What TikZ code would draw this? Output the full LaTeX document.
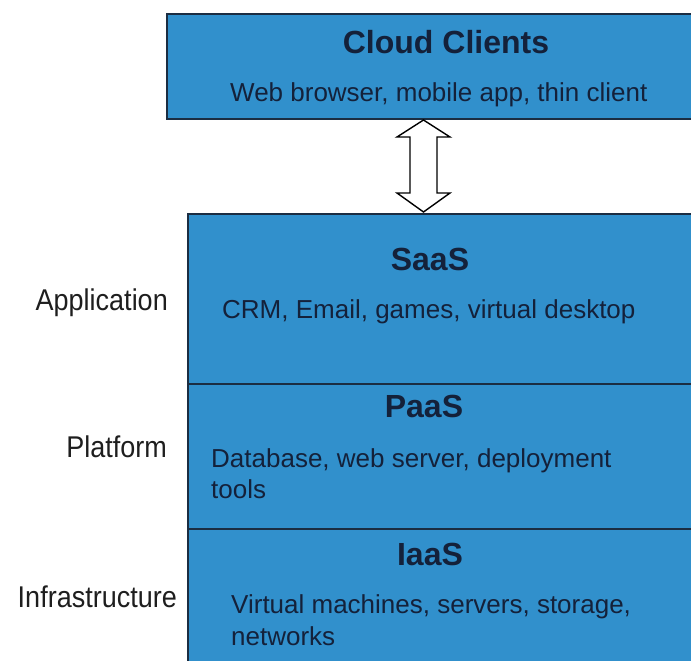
\documentclass[tikz,border=0pt]{standalone}
\usepackage{fontspec}
\setmainfont{Liberation Sans}
\newfontfamily\narrowlabel[FakeStretch=0.9]{Liberation Sans}
\definecolor{layerfill}{HTML}{3190CC}
\definecolor{layerline}{HTML}{1B2D42}
\definecolor{layertext}{HTML}{14213A}
\definecolor{labeltext}{HTML}{1E1E1E}
\tikzset{
  layerbox/.style={draw=layerline, line width=2pt, fill=layerfill, anchor=north west, inner sep=0pt},
  titletext/.style={font=\fontsize{32}{38}\selectfont\bfseries, text=layertext, inner sep=0pt},
  bodytext/.style={font=\fontsize{26}{31}\selectfont, text=layertext, inner sep=0pt, align=left},
  sidetext/.style={font=\narrowlabel\fontsize{30}{36}\selectfont, text=labeltext, inner sep=0pt, anchor=base east},
  blockarrow/.style={draw=black, line width=1.4pt, fill=white, line join=miter}
}
\begin{document}
\begin{tikzpicture}[x=1pt,y=-1pt]
\useasboundingbox (0,0) rectangle (691,661);
% boxes
\node[layerbox, minimum width=540pt, minimum height=105pt] (clients) at (166,13) {};
\node[layerbox, minimum width=520pt, minimum height=170pt] (saas) at (187,213) {};
\node[layerbox, minimum width=520pt, minimum height=145pt] (paas) at (187,383) {};
\node[layerbox, minimum width=520pt, minimum height=145pt] (iaas) at (187,528) {};
% texts in boxes
\node[titletext, anchor=base] (t1) at (446,54) {Cloud Clients};
\node[bodytext, anchor=base west] (b1) at (230,101) {Web browser, mobile app, thin client};
\node[titletext, anchor=base] (t2) at (430,270) {SaaS};
\node[bodytext, anchor=base west] (b2) at (222,318) {CRM, Email, games, virtual desktop};
\node[titletext, anchor=base] (t3) at (424,417) {PaaS};
\node[bodytext, anchor=base west] (b3) at (211,467) {Database, web server, deployment};
\node[bodytext, anchor=base west] (b3b) at (211,498) {tools};
\node[titletext, anchor=base] (t4) at (430,565) {IaaS};
\node[bodytext, anchor=base west] (b4) at (231,613) {Virtual machines, servers, storage,};
\node[bodytext, anchor=base west] (b4b) at (231,645) {networks};
% side labels
\node[sidetext] (l1) at (168,310) {Application};
\node[sidetext] (l2) at (167,457) {Platform};
\node[sidetext] (l3) at (177,607) {Infrastructure};
% double block arrow between clients and saas
\coordinate (atop) at (423.5,120);
\coordinate (abot) at (423.5,212);
\draw[blockarrow] (atop) -- (450,137) -- (437,137) -- (437,193) -- (450,193)
  -- (abot) -- (397,193) -- (410,193) -- (410,137) -- (397,137) -- cycle;
\end{tikzpicture}
\end{document}
